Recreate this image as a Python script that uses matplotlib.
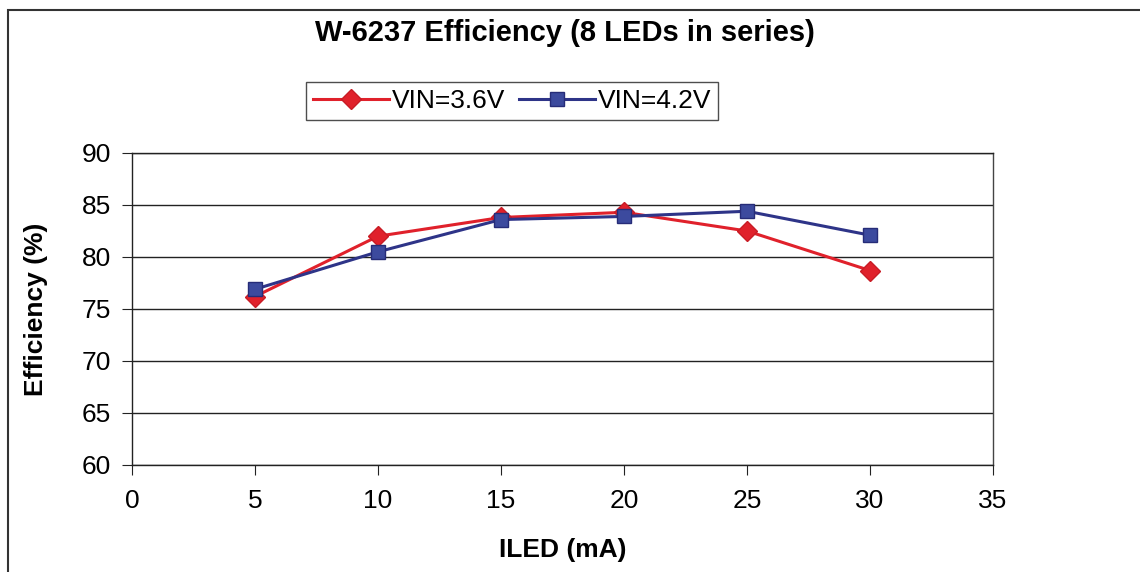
import matplotlib
matplotlib.use("Agg")
import matplotlib.pyplot as plt
from matplotlib.patches import Rectangle

# ILED (mA)
iled = [5, 10, 15, 20, 25, 30]
# efficiency (%)
eff_36v = [76.2, 82.0, 83.8, 84.3, 82.5, 78.7]
eff_42v = [76.9, 80.5, 83.6, 83.9, 84.4, 82.1]

plt.rcParams["font.family"] = ["Liberation Sans", "DejaVu Sans"]

W, H = 1140, 572
fig = plt.figure(figsize=(W / 100, H / 100), dpi=100)

# outer frame (runs off right/bottom edge)
fig.patches.append(Rectangle((8 / W, -0.1), 1.2, 1 - 10 / H + 0.1,
                             transform=fig.transFigure, fill=False,
                             edgecolor="#333333", linewidth=1.5))

ax = fig.add_axes([132 / W, 1 - 465 / H, (993 - 132) / W, (465 - 153) / H])

ax.plot(iled, eff_36v, color="#E0212B", linewidth=2.2, marker="D",
        markersize=10, markerfacecolor="#E0212B", markeredgecolor="#C81C25",
        label="VIN=3.6V", zorder=3)
ax.plot(iled, eff_42v, color="#2E3488", linewidth=2.2, marker="s",
        markersize=10, markerfacecolor="#3C4A9E", markeredgecolor="#262C78",
        label="VIN=4.2V", zorder=4)

ax.set_xlim(0, 35)
ax.set_ylim(60, 90)
ax.set_xticks(range(0, 36, 5))
ax.set_yticks(range(60, 91, 5))
ax.grid(axis="y", color="#222222", linewidth=1.0)
ax.set_axisbelow(True)
for s in ax.spines.values():
    s.set_color("#222222")
    s.set_linewidth(1.0)
ax.spines["right"].set_color("#444444")
ax.tick_params(axis="both", labelsize=19, direction="out", length=7,
               color="#222222", pad=8)
ax.tick_params(axis="x", pad=10)

ax.set_xlabel("ILED (mA)", fontsize=19, fontweight="bold", labelpad=18)
ax.set_ylabel("Efficiency (%)", fontsize=19, fontweight="bold", labelpad=24)

fig.text(565 / W, 1 - 33 / H, "W-6237 Efficiency (8 LEDs in series)",
         ha="center", va="center", fontsize=21, fontweight="bold")

leg = ax.legend(loc="center", bbox_to_anchor=((512 - 132) / (993 - 132),
                                             (465 - 101) / (465 - 153)),
                ncol=2, fontsize=19, frameon=True, fancybox=False,
                handlelength=2.9, handletextpad=0.1, columnspacing=0.5,
                borderpad=0.25, borderaxespad=0)
leg.get_frame().set_edgecolor("#222222")
leg.get_frame().set_linewidth(1.0)
leg.set_clip_on(False)

fig.savefig("out.png", dpi=100)
